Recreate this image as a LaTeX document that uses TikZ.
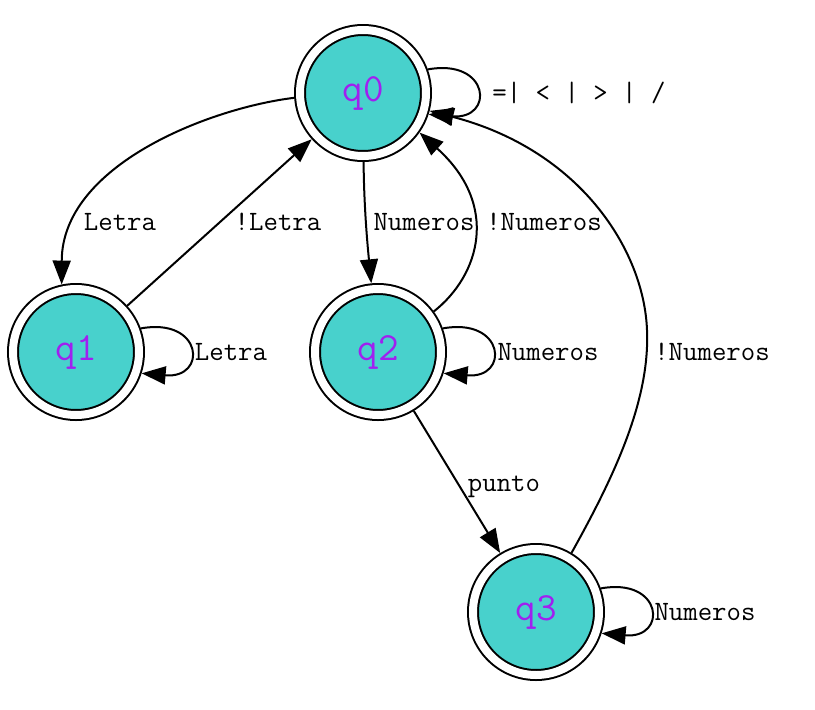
\documentclass[tikz,border=0pt]{standalone}
\usetikzlibrary{arrows.meta}
\definecolor{turq}{HTML}{48D1CC}
\definecolor{statepurple}{HTML}{A020F0}

\begin{document}
\begin{tikzpicture}[x=1pt, y=-1pt, line width=2pt,
    qstate/.style={circle, draw, double=white, double distance=8pt, fill=turq,
        minimum size=126pt, inner sep=0pt, outer sep=6pt, text=statepurple,
        font=\ttfamily\fontsize{40}{44}\selectfont},
    trans/.style={-{Triangle[length=24pt,width=18pt]}},
    lbl/.style={font=\ttfamily\fontsize{28}{32}\selectfont, inner sep=0pt,
        text height=17pt, text depth=0pt}]
    \useasboundingbox (0,0) rectangle (815,710);

    \node[qstate] (q0) at (363,93) {q0};
    \node[qstate] (q1) at (76,352) {q1};
    \node[qstate] (q2) at (378,352) {q2};
    \node[qstate] (q3) at (536,612) {q3};
    \coordinate (turn3) at (647,330);

    \draw[trans] (q0.184) .. controls (210,108) and (62,165) .. (q1.102);
    \draw[trans] (q1) -- (q0);
    \draw[trans] (q0) .. controls (364,210) and (368,250) .. (q2);
    \draw[trans] (q2.36) .. controls (480,275) and (500,205) .. (q0.-35);
    \draw[trans] (q2) -- (q3);
    \draw[trans] (q3.59) .. controls (615,475) and (650,400) .. (turn3)
        .. controls (644,250) and (580,150) .. (q0.-15);

    \draw[trans] (q0.20) .. controls (490,58) and (495,120) .. (q0.-18);
    \draw[trans] (q1.20) .. controls (203,317) and (208,379) .. (q1.-18);
    \draw[trans] (q2.20) .. controls (505,317) and (510,379) .. (q2.-18);
    \draw[trans] (q3.20) .. controls (663,577) and (668,639) .. (q3.-18);

    \node[lbl] (l00) at (579,93) {=| < | > | /};
    \node[lbl] (l01) at (120,222) {Letra};
    \node[lbl] (l10) at (278,222) {!Letra};
    \node[lbl] (l02) at (424,222) {Numeros};
    \node[lbl] (l20) at (544,222) {!Numeros};
    \node[lbl] (l11) at (231,352) {Letra};
    \node[lbl] (l22) at (548,352) {Numeros};
    \node[lbl] (l30) at (712,352) {!Numeros};
    \node[lbl] (l23) at (504,483) {punto};
    \node[lbl] (l33) at (705,612) {Numeros};
\end{tikzpicture}
\end{document}
